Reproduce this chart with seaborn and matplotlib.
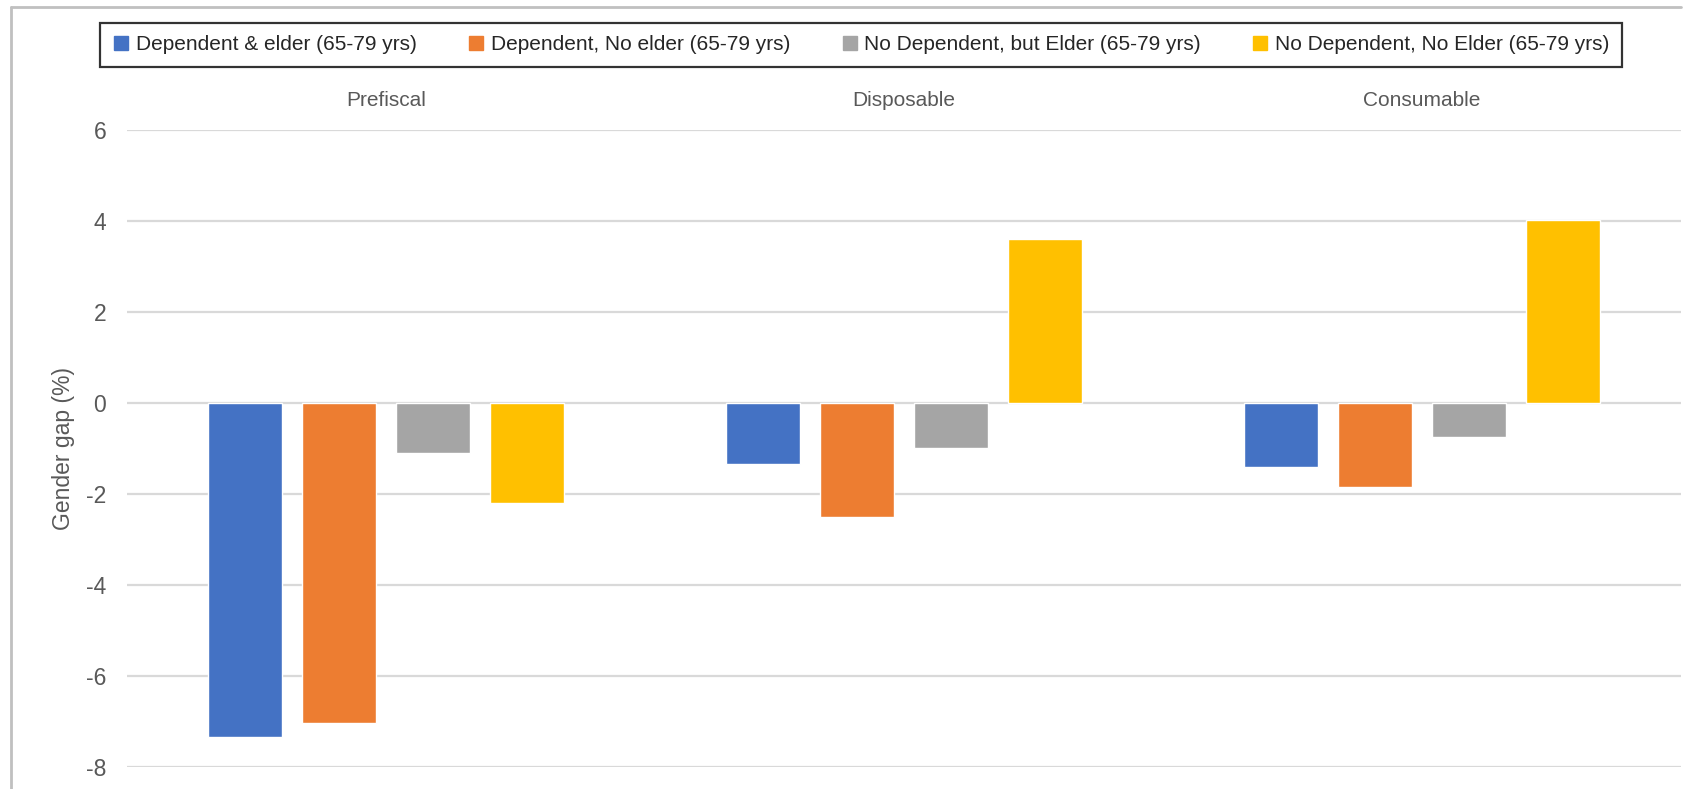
import numpy as np
import pandas as pd
import matplotlib
matplotlib.use("Agg")
import matplotlib.pyplot as plt
from matplotlib.lines import Line2D
import seaborn as sns

# data
measures = ["Prefiscal", "Disposable", "Consumable"]
groups = [
    "Dependent & elder (65-79 yrs)",
    "Dependent, No elder (65-79 yrs)",
    "No Dependent, but Elder (65-79 yrs)",
    "No Dependent, No Elder (65-79 yrs)",
]
dep_elder = [-7.34, -1.35, -1.41]
dep_no_elder = [-7.03, -2.50, -1.85]
nodep_elder = [-1.10, -0.98, -0.75]
nodep_no_elder = [-2.20, 3.60, 4.02]
colors = ["#4472C4", "#ED7D31", "#A5A5A5", "#FFC000"]
yticks = [-8, -6, -4, -2, 0, 2, 4, 6]

rows = []
for g, vals in zip(groups, [dep_elder, dep_no_elder, nodep_elder, nodep_no_elder]):
    for m, v in zip(measures, vals):
        rows.append({"measure": m, "group": g, "gap": v})
df = pd.DataFrame(rows)

sns.set_style("white")
plt.rcParams["font.family"] = ["Liberation Sans", "DejaVu Sans"]

W, H = 1691, 789
fig = plt.figure(figsize=(W / 100, H / 100), dpi=100)
ax = fig.add_axes([127 / W, (H - 767) / H, (1681 - 127) / W, (767 - 130) / H])

sns.barplot(data=df, x="measure", y="gap", hue="group", order=measures,
            hue_order=groups, palette=colors, width=0.726, gap=0.22,
            saturation=1, ax=ax, zorder=3)

ax.set_ylim(-8, 6)
ax.set_yticks(yticks)
ax.set_yticklabels([str(t) for t in yticks])
ax.yaxis.grid(True, color="#d9d9d9", linewidth=1.6, zorder=0)
ax.set_axisbelow(True)
for s in ax.spines.values():
    s.set_visible(False)
ax.xaxis.tick_top()
ax.tick_params(axis="both", length=0, colors="#595959")
ax.tick_params(axis="y", pad=15, labelsize=16.5)
ax.tick_params(axis="x", pad=14.5, labelsize=15)
ax.set_xlabel("")
ax.set_ylabel("Gender gap (%)", color="#595959", fontsize=16.5)
ax.yaxis.set_label_coords(-0.0335, 0.5)

ax.get_legend().remove()
handles = [Line2D([0], [0], marker="s", linestyle="", markersize=10.5,
                  markerfacecolor=c, markeredgecolor=c) for c in colors]
leg = fig.legend(handles, groups, loc="center", ncol=4,
                 bbox_to_anchor=(861 / W, (H - 45) / H),
                 frameon=True, fancybox=False, fontsize=15,
                 handlelength=0.8, handletextpad=0.3, columnspacing=2.46,
                 borderpad=0.62)
leg.get_frame().set_edgecolor("black")
leg.get_frame().set_linewidth(1.6)
for t in leg.get_texts():
    t.set_color("#262626")

# outer chart border
fig.add_artist(Line2D([11 / W, 1681 / W], [(H - 7) / H, (H - 7) / H],
                      color="#c0c0c0", linewidth=2, transform=fig.transFigure))
fig.add_artist(Line2D([11 / W, 11 / W], [0, (H - 7) / H],
                      color="#c0c0c0", linewidth=2, transform=fig.transFigure))

fig.savefig("out.png", dpi=100)
